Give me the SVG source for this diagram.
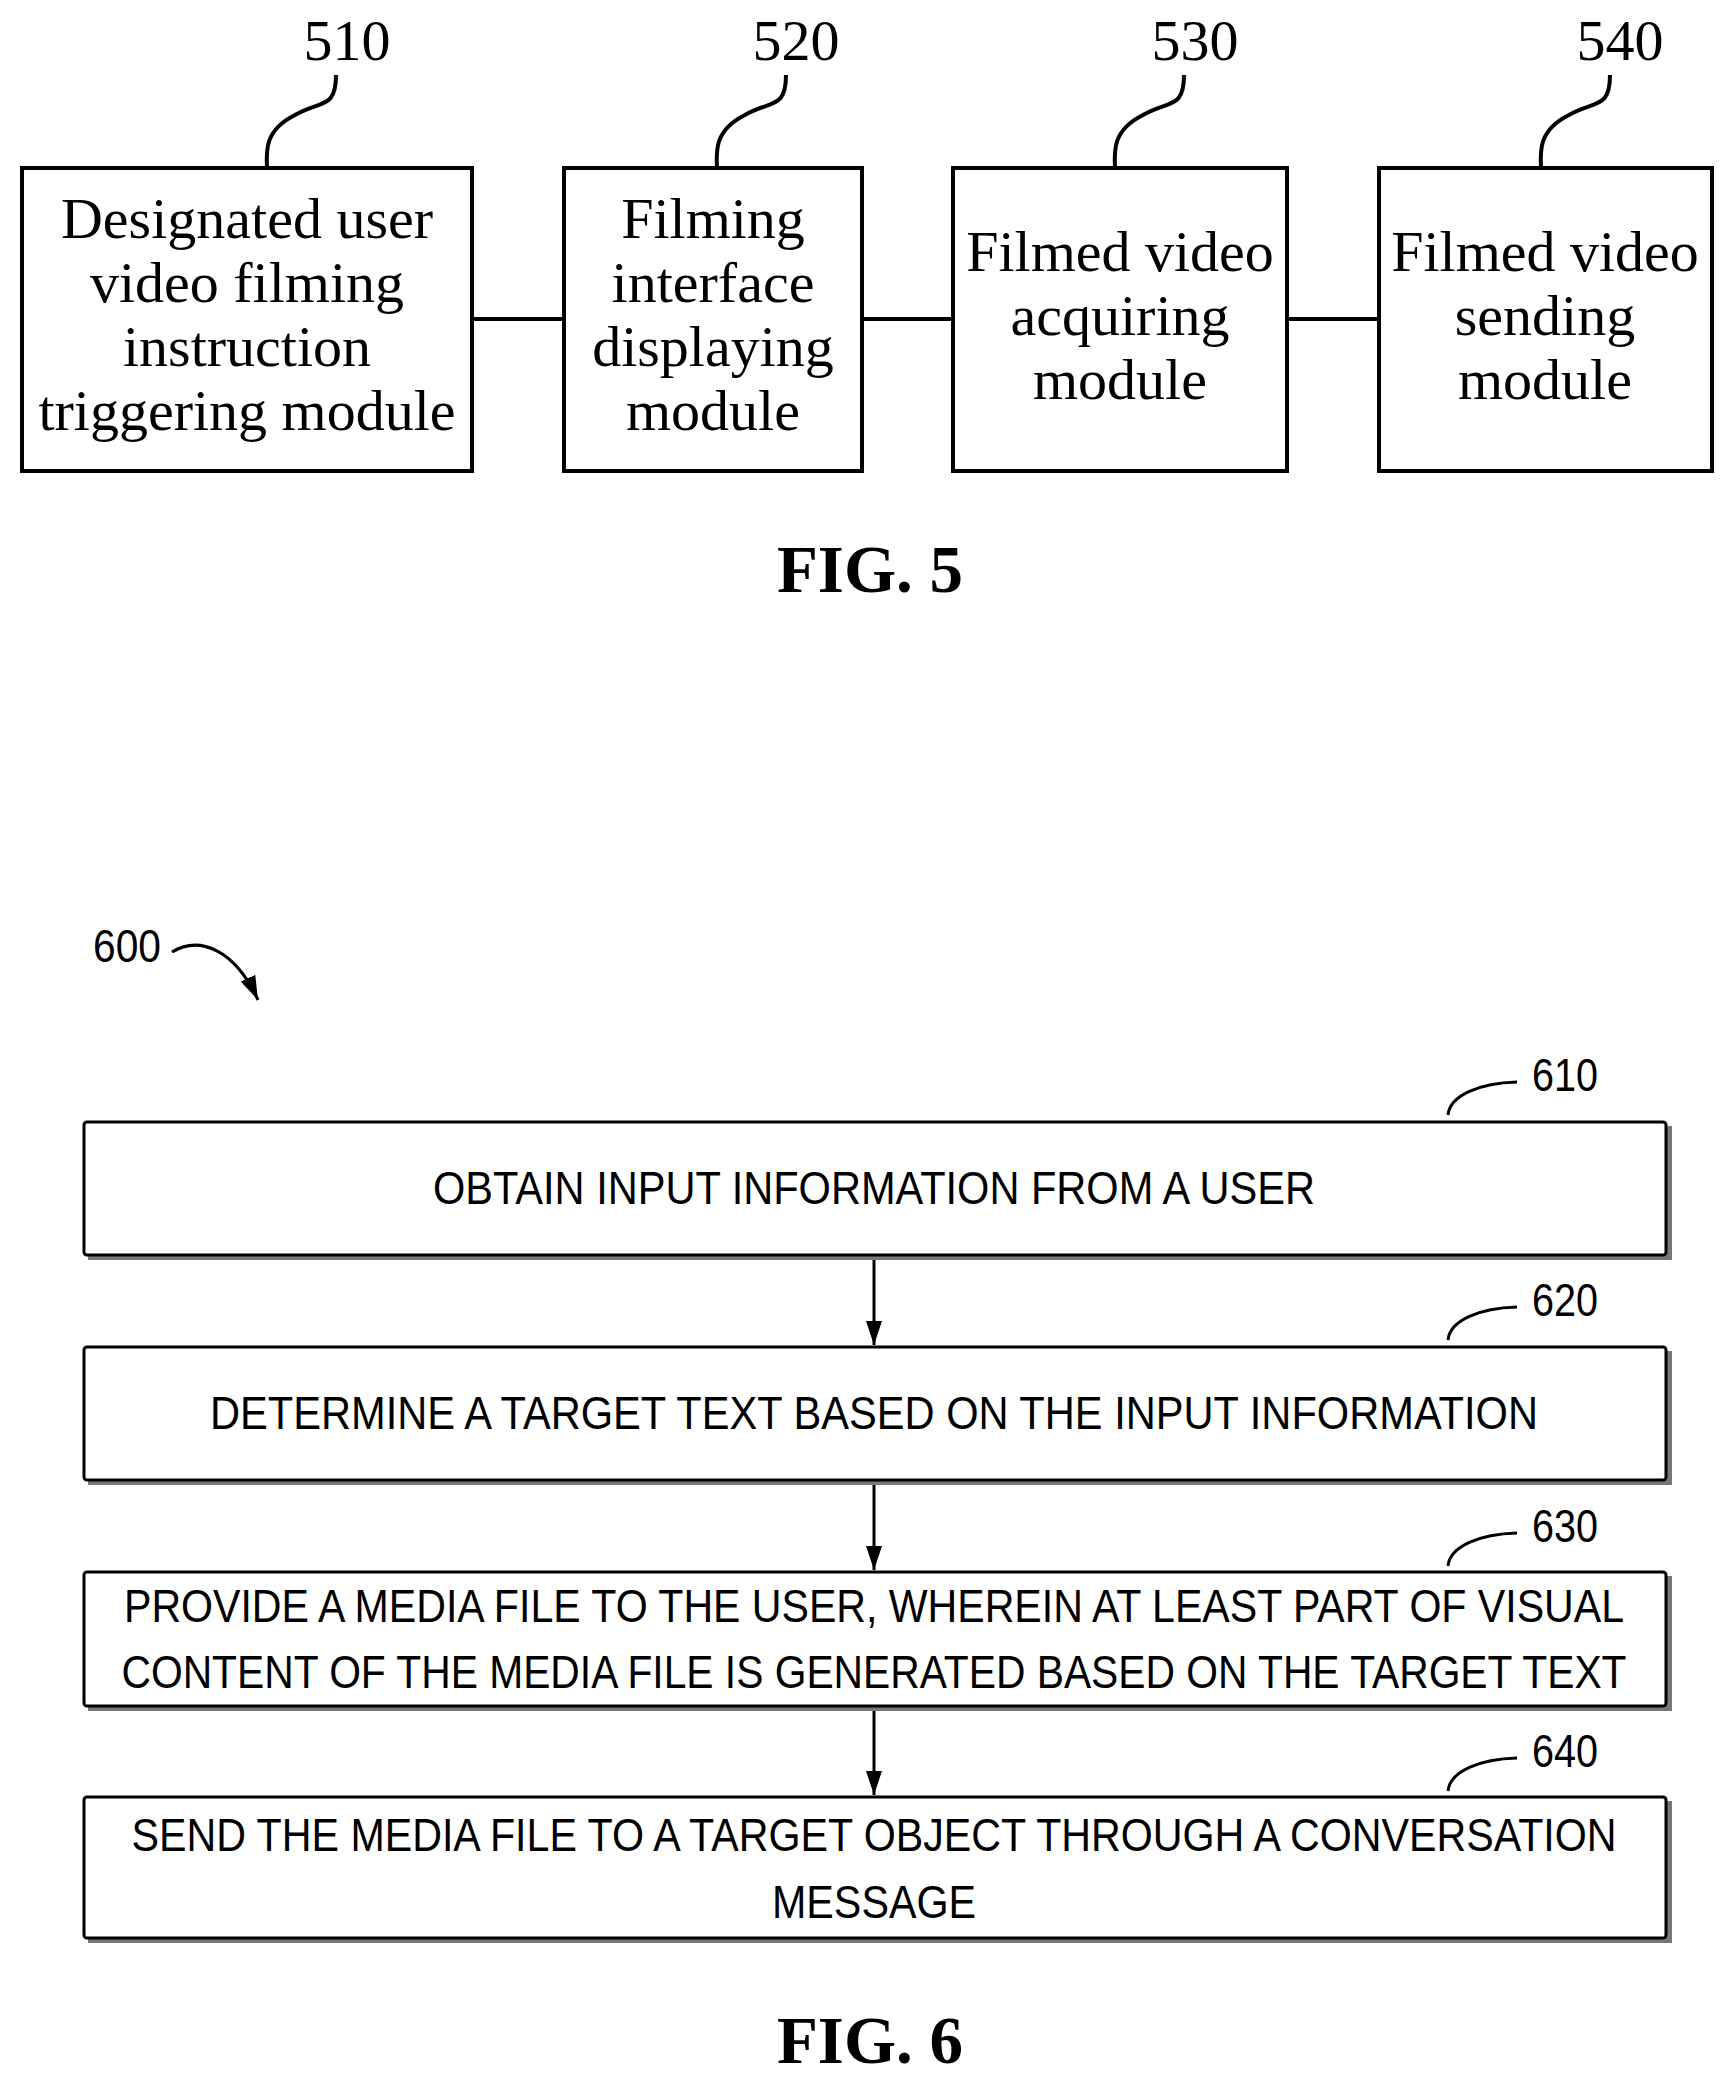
<svg xmlns="http://www.w3.org/2000/svg" width="1730" height="2082" viewBox="0 0 1730 2082">
<style>
.b5{fill:#fff;stroke:#000;stroke-width:4}
.t5{font-family:"Liberation Serif",serif;font-size:58px;text-anchor:middle}
.n5{font-family:"Liberation Serif",serif;font-size:58px;text-anchor:middle}
.ld{fill:none;stroke:#000;stroke-width:4}
.b6{fill:#fff;stroke:#000;stroke-width:3}
.sh{fill:#777}
.t6{font-family:"Liberation Sans",sans-serif;font-size:46px;text-anchor:middle}
.n6{font-family:"Liberation Sans",sans-serif;font-size:46px}
.fig{font-family:"Liberation Serif",serif;font-size:67px;font-weight:bold;text-anchor:middle}
.cn{stroke:#000;stroke-width:3;fill:none}
</style>
<defs>
<marker id="av" markerWidth="24" markerHeight="30" refX="30" refY="12" orient="auto" markerUnits="userSpaceOnUse" viewBox="0 0 30 24"><path d="M0,2 L30,12 L0,22 Z" fill="#000"/></marker></defs>
<g id="connectors">
<line class="ld" x1="472" y1="319" x2="564" y2="319"/>
<line class="ld" x1="862" y1="319" x2="953" y2="319"/>
<line class="ld" x1="1287" y1="319" x2="1379" y2="319"/>
<line class="cn" x1="874" y1="1260" x2="874" y2="1345" marker-end="url(#av)"/>
<line class="cn" x1="874" y1="1485" x2="874" y2="1570" marker-end="url(#av)"/>
<line class="cn" x1="874" y1="1711" x2="874" y2="1795" marker-end="url(#av)"/>
</g>
<g id="n510"><text class="n5" x="347" y="60">510</text><path class="ld" d="M336,75 C336,110 320,100 295,115 C265,130 266,150 267,168"/><rect class="b5" x="22" y="168" width="450" height="303"/>
<text class="t5" x="247" y="238">Designated user</text><text class="t5" x="247" y="302">video filming</text><text class="t5" x="247" y="366">instruction</text><text class="t5" x="247" y="430">triggering module</text></g>
<g id="n520"><text class="n5" x="796" y="60">520</text><path class="ld" d="M786,75 C786,110 770,100 745,115 C715,130 716,150 717,168"/><rect class="b5" x="564" y="168" width="298" height="303"/>
<text class="t5" x="713" y="238">Filming</text><text class="t5" x="713" y="302">interface</text><text class="t5" x="713" y="366">displaying</text><text class="t5" x="713" y="430">module</text></g>
<g id="n530"><text class="n5" x="1195" y="60">530</text><path class="ld" d="M1184,75 C1184,110 1168,100 1143,115 C1113,130 1114,150 1115,168"/><rect class="b5" x="953" y="168" width="334" height="303"/>
<text class="t5" x="1120" y="271">Filmed video</text><text class="t5" x="1120" y="335">acquiring</text><text class="t5" x="1120" y="399">module</text></g>
<g id="n540"><text class="n5" x="1620" y="60">540</text><path class="ld" d="M1610,75 C1610,110 1594,100 1569,115 C1539,130 1540,150 1541,168"/><rect class="b5" x="1379" y="168" width="333" height="303"/>
<text class="t5" x="1545" y="271">Filmed video</text><text class="t5" x="1545" y="335">sending</text><text class="t5" x="1545" y="399">module</text></g>
<text class="fig" x="870" y="592">FIG. 5</text>
<g id="n600"><text class="n6" x="93" y="962" textLength="68" lengthAdjust="spacingAndGlyphs">600</text><path class="cn" d="M172,952 C200,935 235,950 258,1000" stroke-width="4" marker-end="url(#av)"/></g>
<g id="n610"><rect class="sh" x="88" y="1126" width="1584" height="134"/><rect class="b6" x="84" y="1122" width="1582" height="133" rx="3"/><path class="cn" d="M1448,1115 C1450,1095 1480,1083 1517,1082"/><text class="n6" x="1532" y="1091" textLength="66" lengthAdjust="spacingAndGlyphs">610</text>
<text class="t6" x="874" y="1204" textLength="882" lengthAdjust="spacingAndGlyphs">OBTAIN INPUT INFORMATION FROM A USER</text></g>
<g id="n620"><rect class="sh" x="88" y="1351" width="1584" height="134"/><rect class="b6" x="84" y="1347" width="1582" height="133" rx="3"/><path class="cn" d="M1448,1340 C1450,1320 1480,1308 1517,1307"/><text class="n6" x="1532" y="1316" textLength="66" lengthAdjust="spacingAndGlyphs">620</text>
<text class="t6" x="874" y="1429" textLength="1328" lengthAdjust="spacingAndGlyphs">DETERMINE A TARGET TEXT BASED ON THE INPUT INFORMATION</text></g>
<g id="n630"><rect class="sh" x="88" y="1576" width="1584" height="135"/><rect class="b6" x="84" y="1572" width="1582" height="134" rx="3"/><path class="cn" d="M1448,1566 C1450,1546 1480,1534 1517,1533"/><text class="n6" x="1532" y="1542" textLength="66" lengthAdjust="spacingAndGlyphs">630</text>
<text class="t6" x="874" y="1622" textLength="1500" lengthAdjust="spacingAndGlyphs">PROVIDE A MEDIA FILE TO THE USER, WHEREIN AT LEAST PART OF VISUAL</text><text class="t6" x="874" y="1688" textLength="1505" lengthAdjust="spacingAndGlyphs">CONTENT OF THE MEDIA FILE IS GENERATED BASED ON THE TARGET TEXT</text></g>
<g id="n640"><rect class="sh" x="88" y="1801" width="1584" height="142"/><rect class="b6" x="84" y="1797" width="1582" height="141" rx="3"/><path class="cn" d="M1448,1791 C1450,1771 1480,1759 1517,1758"/><text class="n6" x="1532" y="1767" textLength="66" lengthAdjust="spacingAndGlyphs">640</text>
<text class="t6" x="874" y="1851" textLength="1485" lengthAdjust="spacingAndGlyphs">SEND THE MEDIA FILE TO A TARGET OBJECT THROUGH A CONVERSATION</text><text class="t6" x="874" y="1918" textLength="204" lengthAdjust="spacingAndGlyphs">MESSAGE</text></g>
<text class="fig" x="870" y="2063">FIG. 6</text>
</svg>
